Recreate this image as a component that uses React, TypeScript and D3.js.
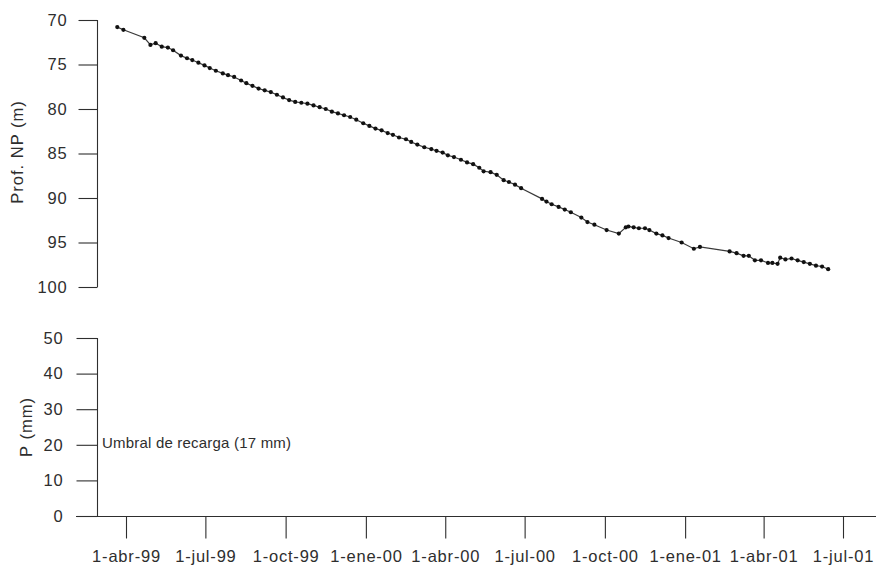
import React, { useRef, useEffect } from "react";
import * as d3 from "d3";

// depth to water level (Prof. NP)
const depthDates = [
  "1999-03-22", "1999-03-29", "1999-04-22", "1999-04-29", "1999-05-05", "1999-05-12", "1999-05-19", "1999-05-25",
  "1999-06-03", "1999-06-10", "1999-06-16", "1999-06-23", "1999-06-30", "1999-07-06", "1999-07-13", "1999-07-21",
  "1999-07-27", "1999-08-03", "1999-08-11", "1999-08-17", "1999-08-24", "1999-08-31", "1999-09-07", "1999-09-14",
  "1999-09-21", "1999-09-28", "1999-10-05", "1999-10-12", "1999-10-19", "1999-10-26", "1999-11-02", "1999-11-09",
  "1999-11-16", "1999-11-23", "1999-11-30", "1999-12-07", "1999-12-14", "1999-12-21", "1999-12-29", "2000-01-05",
  "2000-01-12", "2000-01-19", "2000-01-26", "2000-02-01", "2000-02-08", "2000-02-16", "2000-02-22", "2000-02-29",
  "2000-03-08", "2000-03-16", "2000-03-22", "2000-03-29", "2000-04-04", "2000-04-11", "2000-04-19", "2000-04-26",
  "2000-05-03", "2000-05-10", "2000-05-15", "2000-05-23", "2000-05-30", "2000-06-07", "2000-06-13", "2000-06-20",
  "2000-06-27", "2000-07-21", "2000-07-26", "2000-08-01", "2000-08-09", "2000-08-16", "2000-08-23", "2000-09-04",
  "2000-09-11", "2000-09-19", "2000-10-03", "2000-10-17", "2000-10-25", "2000-10-28", "2000-11-03", "2000-11-09",
  "2000-11-16", "2000-11-21", "2000-11-29", "2000-12-06", "2000-12-13", "2000-12-28", "2001-01-11", "2001-01-18",
  "2001-02-21", "2001-03-01", "2001-03-09", "2001-03-15", "2001-03-22", "2001-03-29", "2001-04-06", "2001-04-11",
  "2001-04-17", "2001-04-20", "2001-04-26", "2001-05-03", "2001-05-10", "2001-05-17", "2001-05-24", "2001-05-31",
  "2001-06-07", "2001-06-14"
];

const depthValues = [
  70.8, 71.1, 72.0, 72.8, 72.6, 73.0, 73.1, 73.4,
  74.0, 74.3, 74.5, 74.8, 75.1, 75.4, 75.7, 76.0,
  76.2, 76.4, 76.8, 77.1, 77.4, 77.7, 77.9, 78.1,
  78.4, 78.7, 79.0, 79.2, 79.3, 79.4, 79.6, 79.8,
  80.0, 80.3, 80.5, 80.7, 80.9, 81.2, 81.6, 81.9,
  82.2, 82.4, 82.7, 82.9, 83.2, 83.4, 83.7, 84.0,
  84.3, 84.5, 84.7, 84.9, 85.2, 85.4, 85.7, 86.0,
  86.2, 86.6, 87.0, 87.1, 87.4, 88.0, 88.2, 88.5,
  88.9, 90.1, 90.4, 90.7, 91.0, 91.3, 91.6, 92.2,
  92.7, 93.0, 93.6, 94.0, 93.3, 93.2, 93.3, 93.4,
  93.4, 93.6, 94.0, 94.2, 94.5, 95.0, 95.7, 95.5,
  96.0, 96.2, 96.5, 96.5, 97.0, 97.0, 97.3, 97.3,
  97.4, 96.7, 96.9, 96.8, 97.0, 97.2, 97.4, 97.6,
  97.7, 98.0
];

const xTickDates = [
  "1999-04-01", "1999-07-01", "1999-10-01", "2000-01-01", "2000-04-01",
  "2000-07-01", "2000-10-01", "2001-01-01", "2001-04-01", "2001-07-01"
];
const monthNames = ["ene", "feb", "mar", "abr", "may", "jun", "jul", "ago", "sep", "oct", "nov", "dic"];
const depthTicks = [70, 75, 80, 85, 90, 95, 100];
const rainTicks = [0, 10, 20, 30, 40, 50];
const thresholdLabel = "Umbral de recarga (17 mm)";

const W = 876;
const H = 571;
const FONT = "'Liberation Sans', Arial, Helvetica, sans-serif";
const INK = "#2e2e2e";

const App = () => {
  const svgRef = useRef(null);

  useEffect(() => {
    const parse = d3.timeParse("%Y-%m-%d");
    const svg = d3.select(svgRef.current);
    svg.selectAll("*").remove();

    const x = d3.scaleTime()
      .domain([parse("1999-04-01"), parse("2001-07-01")])
      .range([126, 843]);
    const yDepth = d3.scaleLinear().domain([70, 100]).range([20, 287]);
    const yRain = d3.scaleLinear().domain([0, 50]).range([516, 338]);

    const styleAxis = g => {
      g.selectAll("line").attr("stroke", INK).attr("stroke-width", 1.1);
      g.selectAll("path").attr("stroke", INK).attr("stroke-width", 1.1);
      g.selectAll("text")
        .attr("fill", INK)
        .style("font-family", FONT)
        .style("font-size", "16.5px")
        .style("letter-spacing", "0.8px");
    };

    // top panel: depth axis
    const depthAxis = d3.axisLeft(yDepth)
      .tickValues(depthTicks)
      .tickSize(19)
      .tickSizeOuter(0)
      .tickPadding(11);
    svg.append("g")
      .attr("transform", "translate(97.5,0)")
      .call(depthAxis)
      .call(g => g.select(".domain").attr("d", `M0,${yDepth(70)}V${yDepth(100)}`))
      .call(styleAxis);

    // bottom panel: precipitation axis
    const rainAxis = d3.axisLeft(yRain)
      .tickValues(rainTicks)
      .tickSize(21)
      .tickSizeOuter(0)
      .tickPadding(13);
    svg.append("g")
      .attr("transform", "translate(97.5,0)")
      .call(rainAxis)
      .call(g => g.select(".domain").attr("d", `M0,${yRain(50)}V${yRain(0)}`))
      .call(styleAxis);

    // time axis
    const xAxis = d3.axisBottom(x)
      .tickValues(xTickDates.map(parse))
      .tickSize(22)
      .tickSizeOuter(0)
      .tickPadding(12)
      .tickFormat(d => `${d.getDate()}-${monthNames[d.getMonth()]}-${String(d.getFullYear()).slice(2)}`);
    svg.append("g")
      .attr("transform", `translate(0,${yRain(0) + 0.5})`)
      .call(xAxis)
      .call(g => g.select(".domain").remove())
      .call(styleAxis);

    svg.append("line")
      .attr("x1", 76).attr("x2", W)
      .attr("y1", yRain(0) + 0.5).attr("y2", yRain(0) + 0.5)
      .attr("stroke", INK).attr("stroke-width", 1.1);

    // axis titles
    svg.append("text")
      .attr("transform", `translate(23,152) rotate(-90)`)
      .attr("text-anchor", "middle")
      .attr("fill", INK)
      .style("font-family", FONT)
      .style("font-size", "16.5px")
      .style("letter-spacing", "1px")
      .text("Prof. NP (m)");

    svg.append("text")
      .attr("transform", `translate(32,427) rotate(-90)`)
      .attr("text-anchor", "middle")
      .attr("fill", INK)
      .style("font-family", FONT)
      .style("font-size", "16.5px")
      .style("letter-spacing", "1px")
      .text("P (mm)");

    svg.append("text")
      .attr("x", 102)
      .attr("y", yRain(17) - 7)
      .attr("fill", INK)
      .style("font-family", FONT)
      .style("font-size", "15px")
      .style("letter-spacing", "0.2px")
      .text(thresholdLabel);

    // depth series
    const points = depthDates.map((d, i) => ({ date: parse(d), value: depthValues[i] }));
    const line = d3.line()
      .x(d => x(d.date))
      .y(d => yDepth(d.value));

    svg.append("path")
      .datum(points)
      .attr("d", line)
      .attr("fill", "none")
      .attr("stroke", "#3a3a3a")
      .attr("stroke-width", 1.2);

    svg.append("g")
      .selectAll("circle")
      .data(points)
      .enter()
      .append("circle")
      .attr("cx", d => x(d.date))
      .attr("cy", d => yDepth(d.value))
      .attr("r", 2.1)
      .attr("fill", "#111");
  }, []);

  return (
    <svg
      ref={svgRef}
      width={W}
      height={H}
      style={{ position: "absolute", left: 0, top: 0, background: "#fff" }}
    />
  );
};

export default App;
